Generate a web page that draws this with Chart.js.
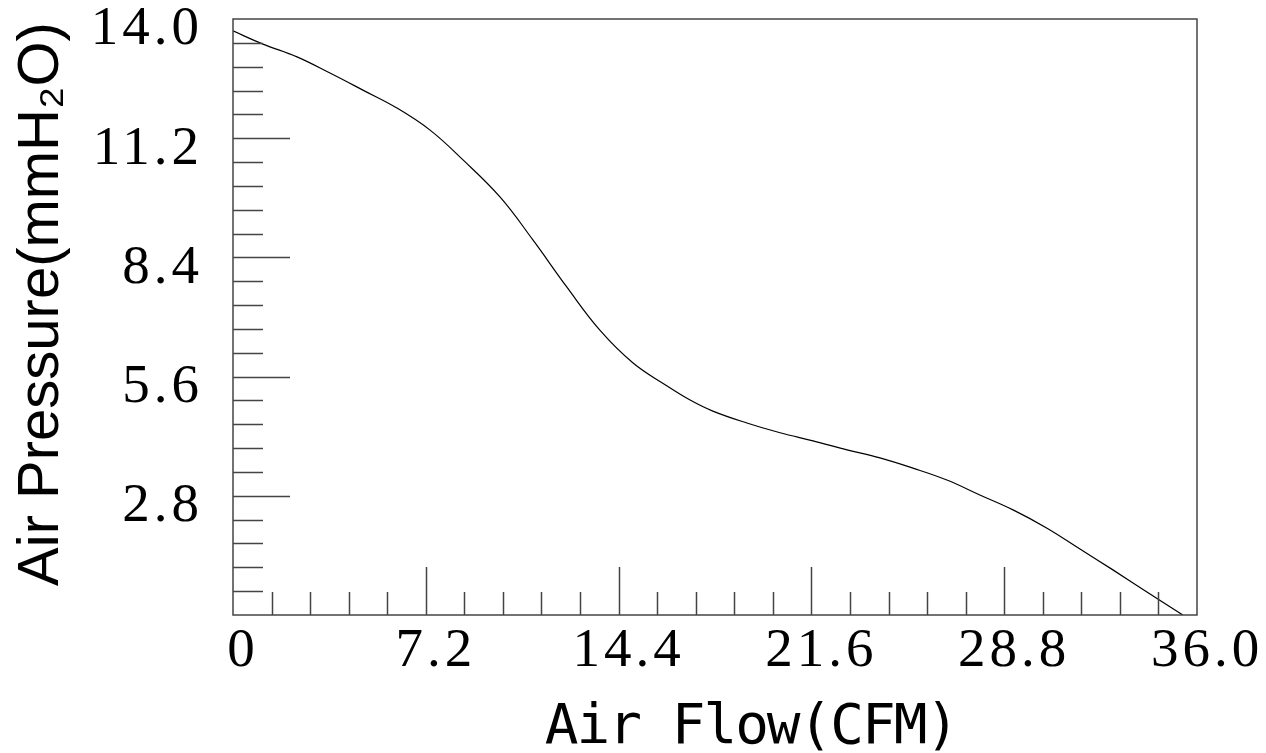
<!DOCTYPE html>
<html>
<head>
<meta charset="utf-8">
<script src="https://cdn.jsdelivr.net/npm/chart.js@4.4.0/dist/chart.umd.min.js"></script>
<style>
  html, body { margin: 0; padding: 0; background: #fff; }
  #wrap { width: 1266px; height: 753px; }
</style>
</head>
<body>
<div id="wrap"><canvas id="chart" width="1266" height="753"></canvas></div>
<script>
// curva (CFM x mmH2O)
const flow     = [0, 1.12, 2.39, 3.62, 4.85, 6.12, 7.36, 8.59, 9.97, 11.20, 12.47, 13.70, 14.94, 16.21, 17.07, 17.92, 19.19, 20.43, 21.66, 22.93, 24.16, 25.39, 26.66, 27.89, 29.13, 30.40, 31.63, 32.86, 34.13, 35.47];
const pressure = [13.72, 13.41, 13.11, 12.73, 12.33, 11.91, 11.39, 10.69, 9.82, 8.81, 7.70, 6.69, 5.92, 5.38, 5.05, 4.79, 4.51, 4.28, 4.09, 3.88, 3.69, 3.45, 3.17, 2.82, 2.47, 2.04, 1.55, 1.06, 0.54, 0];

const xTicks  = [0, 7.2, 14.4, 21.6, 28.8, 36.0];
const xLabels = ['0', '7.2', '14.4', '21.6', '28.8', '36.0'];
const yTicks  = [2.8, 5.6, 8.4, 11.2, 14.0];
const yLabels = ['2.8', '5.6', '8.4', '11.2', '14.0'];

const xTitle = 'Air Flow(CFM)';
const yTitle = 'Air Pressure(mmH\u2082O)';

const frame = {
    id: 'frame',
    beforeDraw(chart) {
        // numeros com espacamento parecido com a fonte original
        chart.ctx.letterSpacing = '4px';
    },
    afterDraw(chart) {
        const { ctx, chartArea: a, scales: { x, y } } = chart;
        ctx.save();
        ctx.letterSpacing = '0px';
        ctx.strokeStyle = '#444';
        ctx.lineWidth = 1.5;
        ctx.strokeRect(a.left, a.top, a.right - a.left, a.bottom - a.top);

        // marcas internas: 5 subdivisoes por intervalo
        const xStep = (xTicks[1] - xTicks[0]) / 5;
        const yStep = (yTicks[1] - yTicks[0]) / 5;
        ctx.beginPath();
        for (let i = 1; i < 25; i++) {
            const px = Math.round(x.getPixelForValue(i * xStep)) + 0.5;
            const xl = i % 5 === 0 ? 48 : 23;
            ctx.moveTo(px, a.bottom);
            ctx.lineTo(px, a.bottom - xl);
            const py = Math.round(y.getPixelForValue(i * yStep)) + 0.5;
            const yl = i % 5 === 0 ? 57 : 30;
            ctx.moveTo(a.left, py);
            ctx.lineTo(a.left + yl, py);
        }
        ctx.stroke();

        // titulos dos eixos
        ctx.fillStyle = '#000';
        ctx.textAlign = 'center';
        ctx.textBaseline = 'alphabetic';
        ctx.font = '56px "DejaVu Sans Mono"';
        ctx.letterSpacing = '-2px';
        ctx.fillText(xTitle, 751, 743);

        ctx.letterSpacing = '0px';
        ctx.font = '58px "Liberation Sans"';
        ctx.translate(58, 304);
        ctx.rotate(-Math.PI / 2);
        ctx.fillText(yTitle, 0, 0);
        ctx.restore();
        ctx.letterSpacing = '0px';
    }
};

const tickFont = { family: '"Liberation Serif"', size: 55 };

const chart = new Chart(document.getElementById('chart'), {
    type: 'line',
    data: {
        datasets: [{
            data: flow.map((f, i) => ({ x: f, y: pressure[i] })),
            borderColor: '#000',
            borderWidth: 1.2,
            pointRadius: 0,
            tension: 0.4,
            fill: false
        }]
    },
    options: {
        responsive: false,
        animation: false,
        layout: { padding: { top: 19, right: 69, left: 0, bottom: 0 } },
        plugins: {
            legend: { display: false },
            tooltip: { enabled: false }
        },
        scales: {
            x: {
                type: 'linear',
                min: 0,
                max: 36,
                grid: { display: false },
                border: { display: false },
                afterBuildTicks: s => { s.ticks = xTicks.map(v => ({ value: v })); },
                afterFit: s => {
                    s.height = 138;
                    s.paddingLeft = 0;
                    s.paddingRight = 0;
                },
                ticks: {
                    color: '#000',
                    font: tickFont,
                    padding: -4,
                    labelOffset: 10,
                    maxRotation: 0,
                    autoSkip: false,
                    callback: (v, i) => xLabels[i]
                }
            },
            y: {
                type: 'linear',
                min: 0,
                max: 14,
                grid: { display: false },
                border: { display: false },
                afterBuildTicks: s => { s.ticks = yTicks.map(v => ({ value: v })); },
                afterFit: s => {
                    s.width = 233;
                    s.paddingTop = 0;
                    s.paddingBottom = 0;
                },
                ticks: {
                    color: '#000',
                    font: tickFont,
                    padding: 22,
                    labelOffset: 11,
                    autoSkip: false,
                    callback: (v, i) => yLabels[i]
                }
            }
        }
    },
    plugins: [frame]
});
</script>
</body>
</html>
